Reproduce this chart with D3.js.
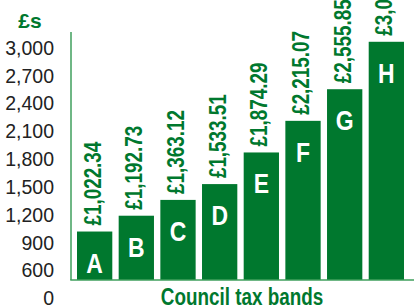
<!DOCTYPE html>
<html>
<head>
<meta charset="utf-8">
<script src="https://cdn.jsdelivr.net/npm/d3@7"></script>
<style>
  html, body { margin: 0; padding: 0; background: #fff; }
  svg { display: block; }
</style>
</head>
<body>
<div id="chart"></div>
<script>
// council tax per band
var bands = ["A", "B", "C", "D", "E", "F", "G", "H"];
var amounts = [1022.34, 1192.73, 1363.12, 1533.51, 1874.29, 2215.07, 2555.85, 3067.02];
var tickVals = [600, 900, 1200, 1500, 1800, 2100, 2400, 2700, 3000];
var zeroLabel = "0";
var unitLabel = "£s";
var xTitle = "Council tax bands";

var W = 414, H = 306;
var GREEN = "#00782e";
var AXIS = "#3f9f5c";
var FONT = "'Liberation Sans', Arial, sans-serif";
var NARROW = 0.82; // no condensed face installed, squeeze instead

var svg = d3.select("#chart").append("svg")
  .attr("width", W)
  .attr("height", H);

// axis is broken: baseline sits at 500
var y = d3.scaleLinear().domain([500, 3000]).range([280, 48]);
var x = d3.scaleBand().domain(bands).range([77, 404]).paddingInner(0.153).paddingOuter(0);

var fmt = d3.format(",.2f");

// y labels
var yAxis = svg.append("g")
  .attr("transform", "translate(54,0)")
  .call(d3.axisLeft(y).tickValues(tickVals).tickSize(0).tickPadding(0).tickFormat(d3.format(",")));
yAxis.select(".domain").remove();
yAxis.selectAll("text")
  .attr("fill", "#222")
  .style("font-family", FONT)
  .style("font-size", "19.5px");

// the "0" sits below the break
svg.append("text")
  .attr("x", 54)
  .attr("y", y(500 - (tickVals[1] - tickVals[0]) * 2 / 3))
  .attr("dy", "0.35em")
  .attr("text-anchor", "end")
  .attr("fill", "#222")
  .style("font-family", FONT)
  .style("font-size", "19.5px")
  .text(zeroLabel);

svg.append("text")
  .attr("x", 30)
  .attr("y", 28)
  .attr("text-anchor", "middle")
  .attr("fill", GREEN)
  .style("font-family", FONT)
  .style("font-weight", "bold")
  .style("font-size", "21px")
  .text(unitLabel);

// bars
var bar = svg.selectAll("g.bar")
  .data(bands)
  .enter().append("g")
  .attr("class", "bar");

bar.append("rect")
  .attr("x", function(d) { return x(d); })
  .attr("y", function(d, i) { return y(amounts[i]); })
  .attr("width", x.bandwidth())
  .attr("height", function(d, i) { return y.range()[0] - y(amounts[i]); })
  .attr("fill", GREEN);

bar.append("text")
  .attr("transform", function(d, i) {
    return "translate(" + (x(d) + x.bandwidth() / 2) + "," + (y(amounts[i]) + 41) + ") scale(" + NARROW + ",1)";
  })
  .attr("text-anchor", "middle")
  .attr("fill", "#fff")
  .style("font-family", FONT)
  .style("font-weight", "bold")
  .style("font-size", "28px")
  .text(function(d) { return d; });

bar.append("text")
  .attr("transform", function(d, i) {
    return "translate(" + (x(d) + x.bandwidth() / 2 + 6) + "," + (y(amounts[i]) - 6) + ") rotate(-90) scale(" + NARROW + ",1)";
  })
  .attr("text-anchor", "start")
  .attr("fill", GREEN)
  .style("font-family", FONT)
  .style("font-weight", "bold")
  .style("font-size", "23px")
  .text(function(d, i) { return "£" + fmt(amounts[i]); });

// axis lines
svg.append("line")
  .attr("x1", 71).attr("x2", 71)
  .attr("y1", 32).attr("y2", y.range()[0])
  .attr("stroke", AXIS).attr("stroke-width", 1.5);
svg.append("line")
  .attr("x1", 70.25).attr("x2", W)
  .attr("y1", y.range()[0]).attr("y2", y.range()[0])
  .attr("stroke", AXIS).attr("stroke-width", 1.5);

svg.append("text")
  .attr("transform", "translate(242,305) scale(" + NARROW + ",1)")
  .attr("text-anchor", "middle")
  .attr("fill", GREEN)
  .style("font-family", FONT)
  .style("font-weight", "bold")
  .style("font-size", "23px")
  .text(xTitle);
</script>
</body>
</html>
